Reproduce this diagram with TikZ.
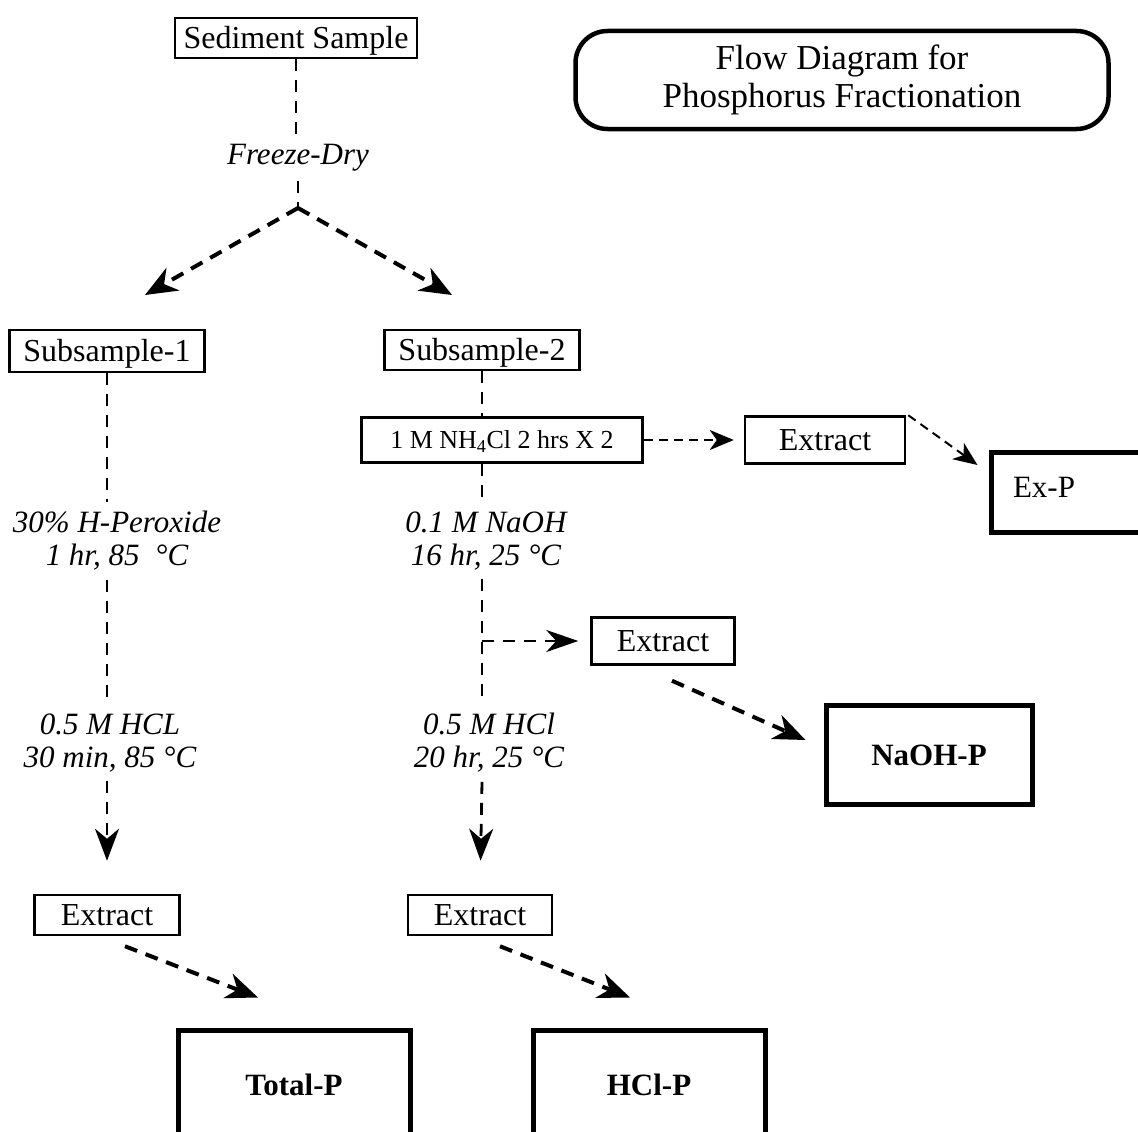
\documentclass[tikz,border=0pt]{standalone}
\usepackage{fontspec}
\setmainfont{Liberation Serif}
\usetikzlibrary{arrows.meta,positioning}

\begin{document}
\begin{tikzpicture}[x=1pt,y=-1pt]
\tikzstyle{box}=[draw,line width=2.5pt,inner sep=0pt,text height=23pt,text depth=2pt,
font=\fontsize{32}{36}\selectfont]
\tikzstyle{result}=[box,line width=5pt,font=\fontsize{31}{36}\selectfont\bfseries]
\tikzstyle{cond}=[align=center,inner xsep=4pt,inner ysep=9pt,
font=\fontsize{31}{33}\selectfont\itshape]
\tikzstyle{flow}=[line width=2.8pt,dash pattern=on 12pt off 9pt]
\tikzstyle{bigflow}=[line width=4pt,dash pattern=on 13pt off 9pt,
-{Stealth[length=32pt,width=26pt,inset=10pt]}]
\tikzstyle{thinflow}=[line width=2pt,dash pattern=on 9pt off 6pt,
-{Stealth[length=24pt,width=20pt,inset=7pt]}]
\clip (0,0) rectangle (1138,1132);

\node[box,minimum width=242pt,minimum height=40pt] at (296,38) (sed) {Sediment Sample};
\node[draw,line width=4.5pt,rounded corners=32pt,minimum width=533pt,minimum height=98pt,
align=center,font=\fontsize{35}{38}\selectfont] at (842,80) (title)
{Flow Diagram for\\Phosphorus Fractionation};
\node[cond] at (298,158) (fd) {Freeze-Dry};
\coordinate (split) at (298,208);
\coordinate (tipl) at (145,295);
\coordinate (tipr) at (452,295);

\node[box,minimum width=195pt,minimum height=42pt] at (107,351) (sub1) {Subsample-1};
\node[box,minimum width=195pt,minimum height=40pt] at (482,350) (sub2) {Subsample-2};

% left branch
\node[cond] at (117,541) (l1) {30\% H-Peroxide\\1 hr, 85\ \ °C};
\node[cond] at (110,743) (l2) {0.5 M HCL\\30 min, 85 °C};
\node[box,minimum width=145pt,minimum height=40pt] at (107,915) (ext1) {Extract};
\node[result,minimum width=232pt,minimum height=110pt,text height=21pt,text depth=0pt]
at (294,1085) (totp) {Total-P};

% right branch
\node[box,minimum width=281pt,minimum height=45pt,text height=19pt,text depth=2pt,
font=\fontsize{26}{30}\selectfont] at (502,440) (nh) {1 M NH\textsubscript{4}Cl 2 hrs X 2};
\node[box,minimum width=160pt,minimum height=47pt] at (825,440) (exa) {Extract};
\node[result,minimum width=200pt,minimum height=80pt,text width=160pt,text height=21pt,
text depth=10pt,inner xsep=22pt,align=left,font=\fontsize{31}{36}\selectfont]
at (1093,492) (exp) {Ex-P};
\node[cond] at (486,541) (r1) {0.1 M NaOH\\16 hr, 25 °C};
\node[box,minimum width=143pt,minimum height=47pt] at (663,641) (ext3) {Extract};
\node[result,minimum width=206pt,minimum height=99pt,text height=21pt,text depth=0pt]
at (929,755) (naoh) {NaOH-P};
\node[cond] at (489,743) (r2) {0.5 M HCl\\20 hr, 25 °C};
\node[box,minimum width=144pt,minimum height=40pt] at (480,915) (ext2) {Extract};
\node[result,minimum width=232pt,minimum height=110pt,text height=21pt,text depth=0pt]
at (649,1085) (hclp) {HCl-P};

% connectors
\draw[flow] (sed) -- (sed.south |- fd.north);
\draw[flow] (fd.south) -- (split);
\draw[bigflow] (split) -- (tipl);
\draw[bigflow] (split) -- (tipr);

\draw[flow] (sub1) -- (sub1.south |- l1.north);
\draw[flow] (sub1.south |- l1.south) -- (sub1.south |- l2.north);
\draw[flow,-{Stealth[length=32pt,width=24pt,inset=10pt]},shorten >=33pt]
(sub1.south |- l2.south) -- (ext1.north);
\draw[bigflow] ([xshift=18pt,yshift=-10pt]ext1.south) -- ([xshift=-36pt,yshift=30pt]totp.north);

\draw[flow] (sub2) -- (sub2.south |- nh.north);
\draw[flow] (sub2.south |- nh.south) -- (sub2.south |- r1.north);
\draw[flow] (sub2.south |- r1.south) -- (sub2.south |- r2.north);
\draw[flow,-{Stealth[length=32pt,width=24pt,inset=10pt]},shorten >=33pt]
(sub2.south |- r2.south) -- (ext2.north);
\draw[bigflow] ([xshift=20pt,yshift=-10pt]ext2.south) -- ([xshift=-19pt,yshift=30pt]hclp.north);

\draw[thinflow] (nh.east) -- ([xshift=-10pt]exa.west);
\draw[thinflow] ([xshift=2pt]exa.north east) -- ([xshift=-11pt,yshift=27pt]exp.west);
\draw[flow,-{Stealth[length=32pt,width=22pt,inset=10pt]}]
(sub2.south |- ext3.west) -- ([xshift=-12pt]ext3.west);
\draw[bigflow] ([xshift=9pt,yshift=-15pt]ext3.south) -- ([xshift=-18pt,yshift=15pt]naoh.west);

\end{tikzpicture}
\end{document}
